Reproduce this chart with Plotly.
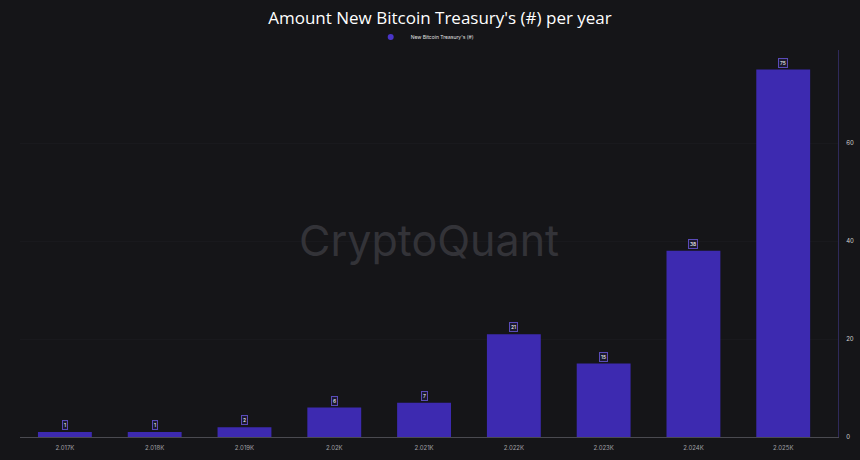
import plotly.graph_objects as go

categories = ["2.017K", "2.018K", "2.019K", "2.02K", "2.021K", "2.022K", "2.023K", "2.024K", "2.025K"]
values = [1, 1, 2, 6, 7, 21, 15, 38, 75]
series_name = "New Bitcoin Treasury's (#)"
y_ticks = [0, 20, 40, 60]

bar_color = "#3d2ab0"
bg = "#151518"

fig = go.Figure()
fig.add_trace(go.Bar(
    x=categories, y=values, name=series_name,
    marker=dict(color=bar_color, line=dict(width=0)),
    width=0.6, showlegend=False,
))
# legend-only entry with a round marker
fig.add_trace(go.Scatter(
    x=[None], y=[None], mode="markers", name=series_name,
    marker=dict(color="#4a35c8", size=6, symbol="circle"), showlegend=True,
))

for c, v in zip(categories, values):
    fig.add_annotation(
        x=c, y=v, text=str(v), showarrow=False, yshift=7,
        font=dict(family="Inter", size=5, color="#ffffff"),
        bgcolor="#1c1a2e", bordercolor="#5a4bb8", borderwidth=1, borderpad=1,
    )

fig.add_annotation(
    x=0.5, y=0.51, xref="paper", yref="paper", text="CryptoQuant", showarrow=False,
    font=dict(family="Inter", size=43, color="#333338"),
)

fig.update_layout(
    width=860, height=460,
    paper_bgcolor=bg, plot_bgcolor=bg,
    margin=dict(l=20, r=22, t=50, b=23, autoexpand=False),
    title=dict(text="Amount New Bitcoin Treasury's (#) per year", x=440/860, xanchor="center",
               y=1 - 18/460, yanchor="middle",
               font=dict(family="Open Sans", size=17, color="#ffffff")),
    legend=dict(orientation="h", x=426/860, xanchor="center", y=1 - 37/460, yanchor="middle",
                yref="container",
                font=dict(family="Inter", size=5, color="#e0e0e0"),
                bgcolor="rgba(0,0,0,0)"),
    bargap=0.4,
    xaxis=dict(showgrid=False, showline=True, linecolor="#4a4a50", linewidth=1,
               range=[-0.5, 8.61],
               tickfont=dict(family="Inter", size=6, color="#a0a0a6"), ticks="",
               ticklabelstandoff=5),
    yaxis=dict(side="right", range=[0, 79], tickvals=y_ticks,
               showgrid=True, gridcolor="#19191d", gridwidth=1, zeroline=False,
               showline=True, linecolor="#2f2a5a", linewidth=1,
               tickfont=dict(family="Inter", size=6, color="#d0d0d0"), ticks="",
               ticklabelstandoff=6),
)

fig.write_html("out.html", config={"displayModeBar": False},
               post_script="document.body.style.margin='0';document.body.style.background='#151518';")
